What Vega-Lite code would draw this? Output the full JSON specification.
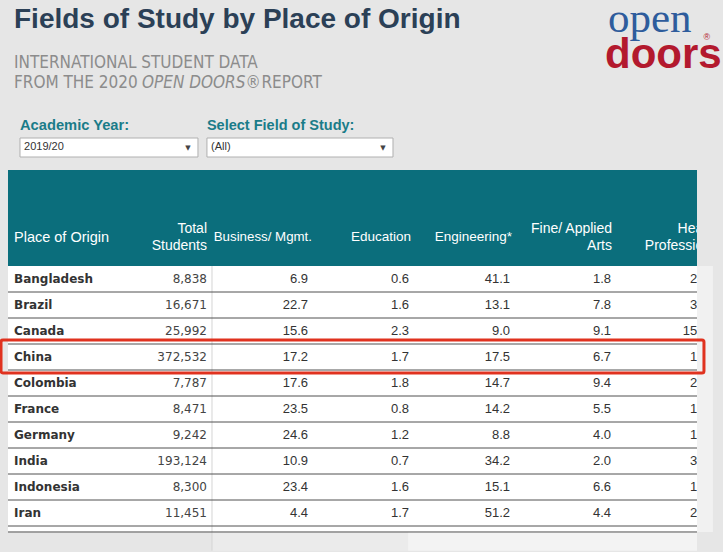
{
  "$schema": "https://vega.github.io/schema/vega-lite/v6.json",
  "width": 723,
  "height": 552,
  "autosize": "none",
  "padding": 0,
  "background": "#e6e6e6",
  "config": {"view": {"stroke": null}, "axis": {"disable": true}},
  "data": {"values": [
    {"country": "Bangladesh", "total": 8838, "business": 6.9, "education": 0.6, "engineering": 41.1, "fine": 1.8, "health": 2.4},
    {"country": "Brazil", "total": 16671, "business": 22.7, "education": 1.6, "engineering": 13.1, "fine": 7.8, "health": 3.4},
    {"country": "Canada", "total": 25992, "business": 15.6, "education": 2.3, "engineering": 9.0, "fine": 9.1, "health": 15.4},
    {"country": "China", "total": 372532, "business": 17.2, "education": 1.7, "engineering": 17.5, "fine": 6.7, "health": 1.5},
    {"country": "Colombia", "total": 7787, "business": 17.6, "education": 1.8, "engineering": 14.7, "fine": 9.4, "health": 2.6},
    {"country": "France", "total": 8471, "business": 23.5, "education": 0.8, "engineering": 14.2, "fine": 5.5, "health": 1.6},
    {"country": "Germany", "total": 9242, "business": 24.6, "education": 1.2, "engineering": 8.8, "fine": 4.0, "health": 1.7},
    {"country": "India", "total": 193124, "business": 10.9, "education": 0.7, "engineering": 34.2, "fine": 2.0, "health": 3.0},
    {"country": "Indonesia", "total": 8300, "business": 23.4, "education": 1.6, "engineering": 15.1, "fine": 6.6, "health": 1.9},
    {"country": "Iran", "total": 11451, "business": 4.4, "education": 1.7, "engineering": 51.2, "fine": 4.4, "health": 2.6}
  ]},
  "transform": [{"window": [{"op": "row_number", "as": "row"}]}],
  "layer": [
    {"data": {"values": [{}]}, "mark": {"type": "rect", "fill": "#0b6e7c"},
     "encoding": {
       "x": {"datum": -0.0198, "type": "quantitative", "scale": {"type": "linear", "domain": [-0.099, 7.0594], "nice": false, "zero": false}},
       "x2": {"datum": 6.802},
       "y": {"datum": -3.192, "type": "quantitative", "scale": {"type": "linear", "domain": [-9.7308, 11.5], "nice": false, "zero": false, "reverse": true}},
       "y2": {"datum": 0.5}}},
    {"data": {"values": [{}]}, "mark": {"type": "rect", "fill": "#ffffff"},
     "encoding": {
       "x": {"datum": -0.0198, "type": "quantitative", "scale": {"type": "linear", "domain": [-0.099, 7.0594], "nice": false, "zero": false}},
       "x2": {"datum": 6.802},
       "y": {"datum": 0.5, "type": "quantitative", "scale": {"type": "linear", "domain": [-9.7308, 11.5], "nice": false, "zero": false, "reverse": true}},
       "y2": {"datum": 10.73}}},
    {"data": {"values": [{}]}, "mark": {"type": "rect", "fill": "#ebebeb"},
     "encoding": {
       "x": {"datum": 2.0, "type": "quantitative", "scale": {"type": "linear", "domain": [-0.099, 7.0594], "nice": false, "zero": false}},
       "x2": {"datum": 3.941},
       "y": {"datum": 10.73, "type": "quantitative", "scale": {"type": "linear", "domain": [-9.7308, 11.5], "nice": false, "zero": false, "reverse": true}},
       "y2": {"datum": 11.45}}},
    {"data": {"values": [{}]}, "mark": {"type": "rect", "fill": "#f3f3f3"},
     "encoding": {
       "x": {"datum": 3.941, "type": "quantitative", "scale": {"type": "linear", "domain": [-0.099, 7.0594], "nice": false, "zero": false}},
       "x2": {"datum": 6.802},
       "y": {"datum": 10.73, "type": "quantitative", "scale": {"type": "linear", "domain": [-9.7308, 11.5], "nice": false, "zero": false, "reverse": true}},
       "y2": {"datum": 11.45}}},
    {"data": {"values": [{}]}, "mark": {"type": "rule", "stroke": "#d4d4d4", "strokeWidth": 1},
     "encoding": {
       "x": {"datum": 2.0, "type": "quantitative", "scale": {"type": "linear", "domain": [-0.099, 7.0594], "nice": false, "zero": false}},
       "y": {"datum": 0.5, "type": "quantitative", "scale": {"type": "linear", "domain": [-9.7308, 11.5], "nice": false, "zero": false, "reverse": true}},
       "y2": {"datum": 11.45}}},
    {"mark": {"type": "rule", "stroke": "#505050", "strokeWidth": 1, "yOffset": 13},
     "encoding": {
       "x": {"datum": -0.0198, "type": "quantitative", "scale": {"type": "linear", "domain": [-0.099, 7.0594], "nice": false, "zero": false}},
       "x2": {"datum": 6.802},
       "y": {"field": "row", "type": "quantitative", "scale": {"type": "linear", "domain": [-9.7308, 11.5], "nice": false, "zero": false, "reverse": true}}}},
    {"data": {"values": [{}]}, "mark": {"type": "rule", "stroke": "#505050", "strokeWidth": 1},
     "encoding": {
       "x": {"datum": -0.0198, "type": "quantitative", "scale": {"type": "linear", "domain": [-0.099, 7.0594], "nice": false, "zero": false}},
       "x2": {"datum": 6.802},
       "y": {"datum": 10.73, "type": "quantitative", "scale": {"type": "linear", "domain": [-9.7308, 11.5], "nice": false, "zero": false, "reverse": true}}}},
    {"mark": {"type": "text", "align": "left", "baseline": "middle", "font": "DejaVu Sans", "fontWeight": "bold", "fontSize": 12, "fill": "#333333"},
     "encoding": {
       "x": {"datum": 0.0396, "type": "quantitative", "scale": {"type": "linear", "domain": [-0.099, 7.0594], "nice": false, "zero": false}},
       "y": {"field": "row", "type": "quantitative", "scale": {"type": "linear", "domain": [-9.7308, 11.5], "nice": false, "zero": false, "reverse": true}},
       "text": {"field": "country", "type": "nominal"}}},
    {"mark": {"type": "text", "align": "right", "baseline": "middle", "dx": -5, "font": "DejaVu Sans", "fontSize": 12, "fill": "#444444"},
     "encoding": {
       "x": {"datum": 2, "type": "quantitative", "scale": {"type": "linear", "domain": [-0.099, 7.0594], "nice": false, "zero": false}},
       "y": {"field": "row", "type": "quantitative", "scale": {"type": "linear", "domain": [-9.7308, 11.5], "nice": false, "zero": false, "reverse": true}},
       "text": {"field": "total", "type": "quantitative", "format": ",d"}}},
    {"mark": {"type": "text", "align": "right", "baseline": "middle", "dx": -5, "font": "Liberation Sans", "fontSize": 13, "fill": "#333333"},
     "encoding": {
       "x": {"datum": 3, "type": "quantitative", "scale": {"type": "linear", "domain": [-0.099, 7.0594], "nice": false, "zero": false}},
       "y": {"field": "row", "type": "quantitative", "scale": {"type": "linear", "domain": [-9.7308, 11.5], "nice": false, "zero": false, "reverse": true}},
       "text": {"field": "business", "type": "quantitative", "format": ".1f"}}},
    {"mark": {"type": "text", "align": "right", "baseline": "middle", "dx": -5, "font": "Liberation Sans", "fontSize": 13, "fill": "#333333"},
     "encoding": {
       "x": {"datum": 4, "type": "quantitative", "scale": {"type": "linear", "domain": [-0.099, 7.0594], "nice": false, "zero": false}},
       "y": {"field": "row", "type": "quantitative", "scale": {"type": "linear", "domain": [-9.7308, 11.5], "nice": false, "zero": false, "reverse": true}},
       "text": {"field": "education", "type": "quantitative", "format": ".1f"}}},
    {"mark": {"type": "text", "align": "right", "baseline": "middle", "dx": -5, "font": "Liberation Sans", "fontSize": 13, "fill": "#333333"},
     "encoding": {
       "x": {"datum": 5, "type": "quantitative", "scale": {"type": "linear", "domain": [-0.099, 7.0594], "nice": false, "zero": false}},
       "y": {"field": "row", "type": "quantitative", "scale": {"type": "linear", "domain": [-9.7308, 11.5], "nice": false, "zero": false, "reverse": true}},
       "text": {"field": "engineering", "type": "quantitative", "format": ".1f"}}},
    {"mark": {"type": "text", "align": "right", "baseline": "middle", "dx": -5, "font": "Liberation Sans", "fontSize": 13, "fill": "#333333"},
     "encoding": {
       "x": {"datum": 6, "type": "quantitative", "scale": {"type": "linear", "domain": [-0.099, 7.0594], "nice": false, "zero": false}},
       "y": {"field": "row", "type": "quantitative", "scale": {"type": "linear", "domain": [-9.7308, 11.5], "nice": false, "zero": false, "reverse": true}},
       "text": {"field": "fine", "type": "quantitative", "format": ".1f"}}},
    {"mark": {"type": "text", "align": "right", "baseline": "middle", "dx": -9, "font": "Liberation Sans", "fontSize": 13, "fill": "#333333"},
     "encoding": {
       "x": {"datum": 7, "type": "quantitative", "scale": {"type": "linear", "domain": [-0.099, 7.0594], "nice": false, "zero": false}},
       "y": {"field": "row", "type": "quantitative", "scale": {"type": "linear", "domain": [-9.7308, 11.5], "nice": false, "zero": false, "reverse": true}},
       "text": {"field": "health", "type": "quantitative", "format": ".1f"}}},
    {"data": {"values": [{}]}, "mark": {"type": "text", "align": "left", "baseline": "middle", "font": "Liberation Sans", "fontSize": 14.5, "fill": "#ffffff"},
     "encoding": {
       "x": {"datum": 0.0396, "type": "quantitative", "scale": {"type": "linear", "domain": [-0.099, 7.0594], "nice": false, "zero": false}},
       "y": {"datum": -0.577, "type": "quantitative", "scale": {"type": "linear", "domain": [-9.7308, 11.5], "nice": false, "zero": false, "reverse": true}},
       "text": {"value": "Place of Origin"}}},
    {"data": {"values": [{}]}, "mark": {"type": "text", "align": "right", "baseline": "middle", "dx": -5, "lineHeight": 17, "font": "Liberation Sans", "fontSize": 14, "fill": "#ffffff"},
     "encoding": {
       "x": {"datum": 2, "type": "quantitative", "scale": {"type": "linear", "domain": [-0.099, 7.0594], "nice": false, "zero": false}},
       "y": {"datum": -0.923, "type": "quantitative", "scale": {"type": "linear", "domain": [-9.7308, 11.5], "nice": false, "zero": false, "reverse": true}},
       "text": {"value": ["Total", "Students"]}}},
    {"data": {"values": [{}]}, "mark": {"type": "text", "align": "right", "baseline": "middle", "dx": -1, "font": "Liberation Sans", "fontSize": 13.3, "fill": "#ffffff"},
     "encoding": {
       "x": {"datum": 3, "type": "quantitative", "scale": {"type": "linear", "domain": [-0.099, 7.0594], "nice": false, "zero": false}},
       "y": {"datum": -0.615, "type": "quantitative", "scale": {"type": "linear", "domain": [-9.7308, 11.5], "nice": false, "zero": false, "reverse": true}},
       "text": {"value": "Business/ Mgmt."}}},
    {"data": {"values": [{}]}, "mark": {"type": "text", "align": "right", "baseline": "middle", "dx": -3, "font": "Liberation Sans", "fontSize": 13.5, "fill": "#ffffff"},
     "encoding": {
       "x": {"datum": 4, "type": "quantitative", "scale": {"type": "linear", "domain": [-0.099, 7.0594], "nice": false, "zero": false}},
       "y": {"datum": -0.615, "type": "quantitative", "scale": {"type": "linear", "domain": [-9.7308, 11.5], "nice": false, "zero": false, "reverse": true}},
       "text": {"value": "Education"}}},
    {"data": {"values": [{}]}, "mark": {"type": "text", "align": "right", "baseline": "middle", "dx": -3, "font": "Liberation Sans", "fontSize": 13.5, "fill": "#ffffff"},
     "encoding": {
       "x": {"datum": 5, "type": "quantitative", "scale": {"type": "linear", "domain": [-0.099, 7.0594], "nice": false, "zero": false}},
       "y": {"datum": -0.615, "type": "quantitative", "scale": {"type": "linear", "domain": [-9.7308, 11.5], "nice": false, "zero": false, "reverse": true}},
       "text": {"value": "Engineering*"}}},
    {"data": {"values": [{}]}, "mark": {"type": "text", "align": "right", "baseline": "middle", "dx": -4, "lineHeight": 17, "font": "Liberation Sans", "fontSize": 14, "fill": "#ffffff"},
     "encoding": {
       "x": {"datum": 6, "type": "quantitative", "scale": {"type": "linear", "domain": [-0.099, 7.0594], "nice": false, "zero": false}},
       "y": {"datum": -0.923, "type": "quantitative", "scale": {"type": "linear", "domain": [-9.7308, 11.5], "nice": false, "zero": false, "reverse": true}},
       "text": {"value": ["Fine/ Applied", "Arts"]}}},
    {"data": {"values": [{}]}, "mark": {"type": "text", "align": "right", "baseline": "middle", "dx": 1, "lineHeight": 17, "font": "Liberation Sans", "fontSize": 14, "fill": "#ffffff"},
     "encoding": {
       "x": {"datum": 7, "type": "quantitative", "scale": {"type": "linear", "domain": [-0.099, 7.0594], "nice": false, "zero": false}},
       "y": {"datum": -0.923, "type": "quantitative", "scale": {"type": "linear", "domain": [-9.7308, 11.5], "nice": false, "zero": false, "reverse": true}},
       "text": {"value": ["Health", "Professions"]}}},
    {"data": {"values": [{}]}, "mark": {"type": "rect", "fill": "#e6e6e6"},
     "encoding": {
       "x": {"datum": 6.802, "type": "quantitative", "scale": {"type": "linear", "domain": [-0.099, 7.0594], "nice": false, "zero": false}},
       "x2": {"datum": 7.0594},
       "y": {"datum": -3.3, "type": "quantitative", "scale": {"type": "linear", "domain": [-9.7308, 11.5], "nice": false, "zero": false, "reverse": true}},
       "y2": {"datum": 11.5}}},
    {"data": {"values": [{}]}, "mark": {"type": "rect", "fill": "#f1f1f1"},
     "encoding": {
       "x": {"datum": 6.802, "type": "quantitative", "scale": {"type": "linear", "domain": [-0.099, 7.0594], "nice": false, "zero": false}},
       "x2": {"datum": 6.96},
       "y": {"datum": 0.5, "type": "quantitative", "scale": {"type": "linear", "domain": [-9.7308, 11.5], "nice": false, "zero": false, "reverse": true}},
       "y2": {"datum": 10.73}}},
    {"data": {"values": [{}]}, "mark": {"type": "rect", "fill": null, "stroke": "#e0321f", "strokeWidth": 3, "cornerRadius": 2},
     "encoding": {
       "x": {"datum": -0.089, "type": "quantitative", "scale": {"type": "linear", "domain": [-0.099, 7.0594], "nice": false, "zero": false}},
       "x2": {"datum": 6.871},
       "y": {"datum": 3.346, "type": "quantitative", "scale": {"type": "linear", "domain": [-9.7308, 11.5], "nice": false, "zero": false, "reverse": true}},
       "y2": {"datum": 4.615}}},
    {"data": {"values": [{}]}, "mark": {"type": "text", "align": "left", "baseline": "middle", "font": "Liberation Sans", "fontWeight": "bold", "fontSize": 28, "fill": "#2b4056"},
     "encoding": {
       "x": {"datum": 0.0396, "type": "quantitative", "scale": {"type": "linear", "domain": [-0.099, 7.0594], "nice": false, "zero": false}},
       "y": {"datum": -8.962, "type": "quantitative", "scale": {"type": "linear", "domain": [-9.7308, 11.5], "nice": false, "zero": false, "reverse": true}},
       "text": {"value": "Fields of Study by Place of Origin"}}},
    {"data": {"values": [{}]}, "mark": {"type": "text", "align": "left", "baseline": "middle", "font": "DejaVu Sans Condensed, Liberation Sans", "fontSize": 17, "fill": "#8c8c8c"},
     "encoding": {
       "x": {"datum": 0.0396, "type": "quantitative", "scale": {"type": "linear", "domain": [-0.099, 7.0594], "nice": false, "zero": false}},
       "y": {"datum": -7.308, "type": "quantitative", "scale": {"type": "linear", "domain": [-9.7308, 11.5], "nice": false, "zero": false, "reverse": true}},
       "text": {"value": "INTERNATIONAL STUDENT DATA"}}},
    {"data": {"values": [{}]}, "mark": {"type": "text", "align": "left", "baseline": "middle", "font": "DejaVu Sans Condensed, Liberation Sans", "fontSize": 17, "fill": "#8c8c8c"},
     "encoding": {
       "x": {"datum": 0.0396, "type": "quantitative", "scale": {"type": "linear", "domain": [-0.099, 7.0594], "nice": false, "zero": false}},
       "y": {"datum": -6.538, "type": "quantitative", "scale": {"type": "linear", "domain": [-9.7308, 11.5], "nice": false, "zero": false, "reverse": true}},
       "text": {"value": "FROM THE 2020"}}},
    {"data": {"values": [{}]}, "mark": {"type": "text", "align": "left", "baseline": "middle", "font": "DejaVu Sans Condensed, Liberation Sans", "fontStyle": "italic", "fontSize": 17, "fill": "#8c8c8c"},
     "encoding": {
       "x": {"datum": 1.307, "type": "quantitative", "scale": {"type": "linear", "domain": [-0.099, 7.0594], "nice": false, "zero": false}},
       "y": {"datum": -6.538, "type": "quantitative", "scale": {"type": "linear", "domain": [-9.7308, 11.5], "nice": false, "zero": false, "reverse": true}},
       "text": {"value": "OPEN DOORS®"}}},
    {"data": {"values": [{}]}, "mark": {"type": "text", "align": "left", "baseline": "middle", "font": "DejaVu Sans Condensed, Liberation Sans", "fontSize": 17, "fill": "#8c8c8c"},
     "encoding": {
       "x": {"datum": 2.49, "type": "quantitative", "scale": {"type": "linear", "domain": [-0.099, 7.0594], "nice": false, "zero": false}},
       "y": {"datum": -6.538, "type": "quantitative", "scale": {"type": "linear", "domain": [-9.7308, 11.5], "nice": false, "zero": false, "reverse": true}},
       "text": {"value": "REPORT"}}},
    {"data": {"values": [{}]}, "mark": {"type": "text", "align": "left", "baseline": "middle", "font": "Liberation Sans", "fontWeight": "bold", "fontSize": 14.7, "fill": "#1a7c89"},
     "encoding": {
       "x": {"datum": 0.099, "type": "quantitative", "scale": {"type": "linear", "domain": [-0.099, 7.0594], "nice": false, "zero": false}},
       "y": {"datum": -4.885, "type": "quantitative", "scale": {"type": "linear", "domain": [-9.7308, 11.5], "nice": false, "zero": false, "reverse": true}},
       "text": {"value": "Academic Year:"}}},
    {"data": {"values": [{}]}, "mark": {"type": "text", "align": "left", "baseline": "middle", "font": "Liberation Sans", "fontWeight": "bold", "fontSize": 14.5, "fill": "#1a7c89"},
     "encoding": {
       "x": {"datum": 1.95, "type": "quantitative", "scale": {"type": "linear", "domain": [-0.099, 7.0594], "nice": false, "zero": false}},
       "y": {"datum": -4.885, "type": "quantitative", "scale": {"type": "linear", "domain": [-9.7308, 11.5], "nice": false, "zero": false, "reverse": true}},
       "text": {"value": "Select Field of Study:"}}},
    {"data": {"values": [{}]}, "mark": {"type": "rect", "fill": "#ffffff", "stroke": "#b0b0b0", "strokeWidth": 1},
     "encoding": {
       "x": {"datum": 0.099, "type": "quantitative", "scale": {"type": "linear", "domain": [-0.099, 7.0594], "nice": false, "zero": false}},
       "x2": {"datum": 1.861},
       "y": {"datum": -4.423, "type": "quantitative", "scale": {"type": "linear", "domain": [-9.7308, 11.5], "nice": false, "zero": false, "reverse": true}},
       "y2": {"datum": -3.692}}},
    {"data": {"values": [{}]}, "mark": {"type": "rect", "fill": "#ffffff", "stroke": "#b0b0b0", "strokeWidth": 1},
     "encoding": {
       "x": {"datum": 1.95, "type": "quantitative", "scale": {"type": "linear", "domain": [-0.099, 7.0594], "nice": false, "zero": false}},
       "x2": {"datum": 3.792},
       "y": {"datum": -4.423, "type": "quantitative", "scale": {"type": "linear", "domain": [-9.7308, 11.5], "nice": false, "zero": false, "reverse": true}},
       "y2": {"datum": -3.692}}},
    {"data": {"values": [{}]}, "mark": {"type": "text", "align": "left", "baseline": "middle", "font": "Liberation Sans", "fontSize": 11, "fill": "#333333"},
     "encoding": {
       "x": {"datum": 0.139, "type": "quantitative", "scale": {"type": "linear", "domain": [-0.099, 7.0594], "nice": false, "zero": false}},
       "y": {"datum": -4.06, "type": "quantitative", "scale": {"type": "linear", "domain": [-9.7308, 11.5], "nice": false, "zero": false, "reverse": true}},
       "text": {"value": "2019/20"}}},
    {"data": {"values": [{}]}, "mark": {"type": "text", "align": "left", "baseline": "middle", "font": "Liberation Sans", "fontSize": 11, "fill": "#333333"},
     "encoding": {
       "x": {"datum": 1.99, "type": "quantitative", "scale": {"type": "linear", "domain": [-0.099, 7.0594], "nice": false, "zero": false}},
       "y": {"datum": -4.06, "type": "quantitative", "scale": {"type": "linear", "domain": [-9.7308, 11.5], "nice": false, "zero": false, "reverse": true}},
       "text": {"value": "(All)"}}},
    {"data": {"values": [{}]}, "mark": {"type": "text", "align": "center", "baseline": "middle", "font": "DejaVu Sans", "fontSize": 7, "fill": "#444444"},
     "encoding": {
       "x": {"datum": 1.762, "type": "quantitative", "scale": {"type": "linear", "domain": [-0.099, 7.0594], "nice": false, "zero": false}},
       "y": {"datum": -4.04, "type": "quantitative", "scale": {"type": "linear", "domain": [-9.7308, 11.5], "nice": false, "zero": false, "reverse": true}},
       "text": {"value": "▼"}}},
    {"data": {"values": [{}]}, "mark": {"type": "text", "align": "center", "baseline": "middle", "font": "DejaVu Sans", "fontSize": 7, "fill": "#444444"},
     "encoding": {
       "x": {"datum": 3.693, "type": "quantitative", "scale": {"type": "linear", "domain": [-0.099, 7.0594], "nice": false, "zero": false}},
       "y": {"datum": -4.04, "type": "quantitative", "scale": {"type": "linear", "domain": [-9.7308, 11.5], "nice": false, "zero": false, "reverse": true}},
       "text": {"value": "▼"}}},
    {"data": {"values": [{}]}, "mark": {"type": "text", "align": "left", "baseline": "alphabetic", "font": "Liberation Serif", "fontSize": 43, "fill": "#2e5c9c"},
     "encoding": {
       "x": {"datum": 5.921, "type": "quantitative", "scale": {"type": "linear", "domain": [-0.099, 7.0594], "nice": false, "zero": false}},
       "y": {"datum": -8.5, "type": "quantitative", "scale": {"type": "linear", "domain": [-9.7308, 11.5], "nice": false, "zero": false, "reverse": true}},
       "text": {"value": "open"}}},
    {"data": {"values": [{}]}, "mark": {"type": "text", "align": "left", "baseline": "alphabetic", "font": "Liberation Sans", "fontWeight": "bold", "fontSize": 42, "fill": "#b3192e"},
     "encoding": {
       "x": {"datum": 5.891, "type": "quantitative", "scale": {"type": "linear", "domain": [-0.099, 7.0594], "nice": false, "zero": false}},
       "y": {"datum": -7.115, "type": "quantitative", "scale": {"type": "linear", "domain": [-9.7308, 11.5], "nice": false, "zero": false, "reverse": true}},
       "text": {"value": "doors"}}},
    {"data": {"values": [{}]}, "mark": {"type": "text", "align": "center", "baseline": "middle", "font": "Liberation Sans", "fontSize": 9, "fill": "#b3192e"},
     "encoding": {
       "x": {"datum": 6.9, "type": "quantitative", "scale": {"type": "linear", "domain": [-0.099, 7.0594], "nice": false, "zero": false}},
       "y": {"datum": -8.3, "type": "quantitative", "scale": {"type": "linear", "domain": [-9.7308, 11.5], "nice": false, "zero": false, "reverse": true}},
       "text": {"value": "®"}}}
  ]
}
